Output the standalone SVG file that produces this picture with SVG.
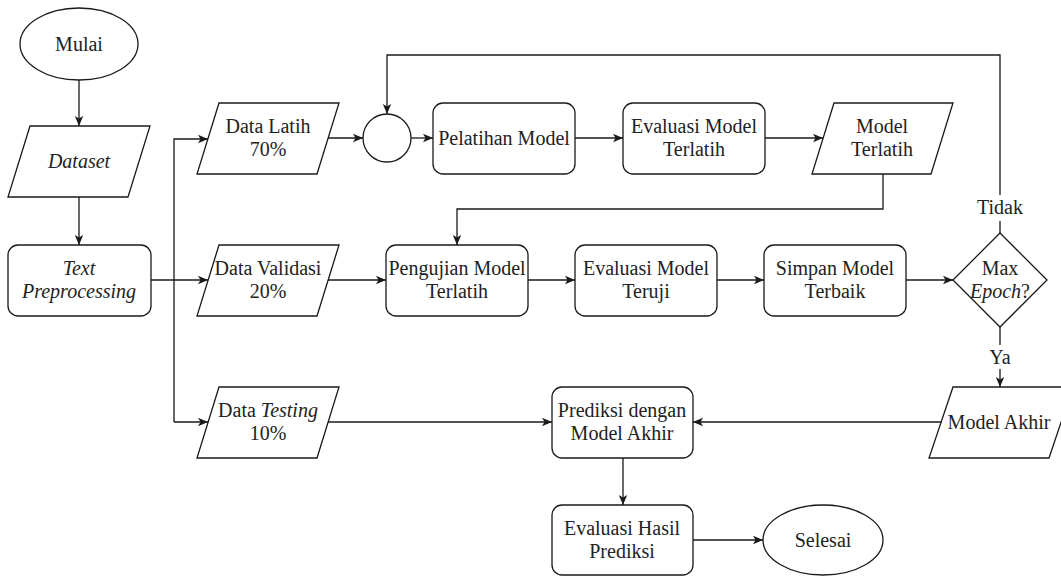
<svg xmlns="http://www.w3.org/2000/svg" width="1061" height="576" viewBox="0 0 1061 576">
  <defs>
    <marker id="arrow" markerUnits="userSpaceOnUse" markerWidth="12" markerHeight="10" refX="10" refY="5" orient="auto">
      <path d="M0,0.8 L10,5 L0,9.2 L2.5,5 Z" fill="#1a1a1a"/>
    </marker>
  </defs>
  <style>
    .shape { fill: #ffffff; stroke: #1a1a1a; stroke-width: 1.3; }
    .line { fill: none; stroke: #1a1a1a; stroke-width: 1.3; }
    .arr { marker-end: url(#arrow); }
    text { font-family: "Times New Roman", "Liberation Serif", Tinos, "Noto Serif", "DejaVu Serif", FreeSerif, serif; font-size: 20px; fill: #222222; text-anchor: middle; }
    .it { font-style: italic; }
  </style>
  <rect width="1061" height="576" fill="#ffffff"/>

  <!-- connectors -->
  <g id="connectors">
    <path class="line arr" d="M79,80 L79,126"/>
    <path class="line arr" d="M79,197 L79,245"/>
    <path class="line arr" d="M151,280 L208,280"/>
    <path class="line" d="M174,280 L174,422"/>
    <path class="line arr" d="M174,280 L174,139 L208,139"/>
    <path class="line arr" d="M174,422 L208,422"/>
    <path class="line arr" d="M328,138 L363,138"/>
    <path class="line arr" d="M411,138 L433,138"/>
    <path class="line arr" d="M575,138 L623,138"/>
    <path class="line arr" d="M765,138 L823,138"/>
    <path class="line arr" d="M883,174 L883,209 L457,209 L457,245"/>
    <path class="line arr" d="M328,280 L386,280"/>
    <path class="line arr" d="M528,280 L575,280"/>
    <path class="line arr" d="M717,280 L764,280"/>
    <path class="line arr" d="M906,280 L953,280"/>
    <path class="line arr" d="M1000,233 L1000,55 L387,55 L387,114"/>
    <path class="line arr" d="M1000,327 L1000,387"/>
    <path class="line arr" d="M941,422 L693,422"/>
    <path class="line arr" d="M328,422 L552,422"/>
    <path class="line arr" d="M623,458 L623,505"/>
    <path class="line arr" d="M693,540 L763,540"/>
    <!-- branch labels -->
    <rect x="976" y="195" width="48" height="26" fill="#ffffff"/>
    <text x="1000" y="214">Tidak</text>
    <rect x="986" y="345" width="28" height="24" fill="#ffffff"/>
    <text x="1000" y="364">Ya</text>
  </g>

  <g id="mulai">
    <ellipse class="shape" cx="79" cy="44" rx="59" ry="36"/>
    <text x="79" y="51">Mulai</text>
  </g>

  <g id="dataset">
    <polygon class="shape" points="30,126 150,126 128,197 8,197"/>
    <text class="it" x="79" y="168">Dataset</text>
  </g>

  <g id="text-preprocessing">
    <rect class="shape" x="8" y="245" width="143" height="71" rx="10"/>
    <text class="it" x="79" y="275">Text</text>
    <text class="it" x="79" y="298">Preprocessing</text>
  </g>

  <g id="data-latih">
    <polygon class="shape" points="219,103 339,103 317,174 197,174"/>
    <text x="268" y="133">Data Latih</text>
    <text x="268" y="156">70%</text>
  </g>

  <g id="data-validasi">
    <polygon class="shape" points="219,245 339,245 317,316 197,316"/>
    <text x="268" y="275">Data Validasi</text>
    <text x="268" y="298">20%</text>
  </g>

  <g id="data-testing">
    <polygon class="shape" points="219,387 339,387 317,458 197,458"/>
    <text x="268" y="417">Data <tspan class="it">Testing</tspan></text>
    <text x="268" y="440">10%</text>
  </g>

  <g id="junction">
    <circle class="shape" cx="387" cy="138" r="24"/>
  </g>

  <g id="pelatihan-model">
    <rect class="shape" x="433" y="103" width="142" height="71" rx="10"/>
    <text x="504" y="145">Pelatihan Model</text>
  </g>

  <g id="evaluasi-model-terlatih">
    <rect class="shape" x="623" y="103" width="142" height="71" rx="10"/>
    <text x="694" y="133">Evaluasi Model</text>
    <text x="694" y="156">Terlatih</text>
  </g>

  <g id="model-terlatih">
    <polygon class="shape" points="834,103 953,103 931,174 812,174"/>
    <text x="882" y="133">Model</text>
    <text x="882" y="156">Terlatih</text>
  </g>

  <g id="pengujian-model">
    <rect class="shape" x="386" y="245" width="142" height="71" rx="10"/>
    <text x="457" y="275">Pengujian Model</text>
    <text x="457" y="298">Terlatih</text>
  </g>

  <g id="evaluasi-model-teruji">
    <rect class="shape" x="575" y="245" width="142" height="71" rx="10"/>
    <text x="646" y="275">Evaluasi Model</text>
    <text x="646" y="298">Teruji</text>
  </g>

  <g id="simpan-model">
    <rect class="shape" x="764" y="245" width="142" height="71" rx="10"/>
    <text x="835" y="275">Simpan Model</text>
    <text x="835" y="298">Terbaik</text>
  </g>

  <g id="max-epoch">
    <polygon class="shape" points="1000,233 1047,280 1000,327 953,280"/>
    <text x="1000" y="275">Max</text>
    <text x="1000" y="298"><tspan class="it">Epoch</tspan>?</text>
  </g>

  <g id="model-akhir">
    <polygon class="shape" points="953,387 1073,387 1049,458 929,458"/>
    <text x="999" y="429">Model Akhir</text>
  </g>

  <g id="prediksi">
    <rect class="shape" x="552" y="387" width="141" height="71" rx="10"/>
    <text x="622" y="417">Prediksi dengan</text>
    <text x="622" y="440">Model Akhir</text>
  </g>

  <g id="evaluasi-hasil">
    <rect class="shape" x="552" y="505" width="141" height="70" rx="10"/>
    <text x="622" y="535">Evaluasi Hasil</text>
    <text x="622" y="558">Prediksi</text>
  </g>

  <g id="selesai">
    <ellipse class="shape" cx="823" cy="540" rx="60" ry="35"/>
    <text x="823" y="547">Selesai</text>
  </g>
</svg>
